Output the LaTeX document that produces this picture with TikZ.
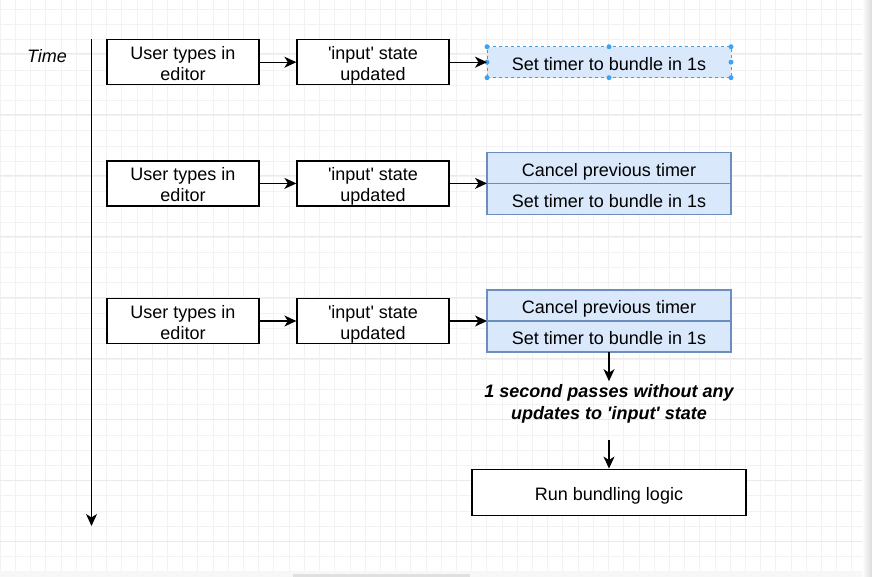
\documentclass[tikz,border=0pt]{standalone}
\usepackage{fontspec}
\setmainfont{Liberation Sans}
\usetikzlibrary{arrows.meta,positioning}

\definecolor{gridminor}{HTML}{F2F2F2}
\definecolor{gridmajor}{HTML}{EAEAEA}
\definecolor{bluefill}{HTML}{DAE8FC}
\definecolor{blueline}{HTML}{6C8EBF}
\definecolor{selblue}{HTML}{3FA2F0}

\newcommand{\inputword}{\textquotesingle input\textquotesingle}

\begin{document}
\begin{tikzpicture}[x=1pt,y=-1pt,
		every node/.style={font=\fontsize{18}{21}\selectfont},
		whitebox/.style={draw=black,line width=1.3pt,fill=white,minimum width=152pt,minimum height=45pt,align=center,inner sep=0pt,text height=36.6pt,text depth=0pt},
		runbox/.style={whitebox,minimum width=274pt,minimum height=46pt,text height=20.5pt,text depth=3.5pt},
		bluebox/.style={draw=blueline,line width=1.2pt,fill=bluefill,minimum width=244pt,minimum height=31pt,inner sep=0pt,outer sep=0pt,text height=20.3pt,text depth=3.5pt},
		selbox/.style={bluebox,draw=selblue!80!gray,dashed,line width=0.8pt},
		handle/.style={circle,fill=selblue,inner sep=0pt,minimum size=5pt},
		conn/.style={line width=1.3pt,-{Stealth[length=12pt,width=11pt,inset=3.5pt]}},
		note/.style={font=\fontsize{18}{21.5}\selectfont\bfseries\itshape,align=center,inner sep=3.5pt}]
		
		% Background
		\useasboundingbox (0,0) rectangle (872,577);
		\fill[white] (0,0) rectangle (872,577);
		\begin{scope}[yshift=-9pt]
		\draw[gridminor,line width=0.6pt,step=15.21pt] (0,-9) grid (872,577);
		\end{scope}
		\foreach \y in {53.7,114.7,175.7,236.7,297.7,358.7,419.7,480.7,541.7}
		\draw[gridmajor,line width=0.7pt] (0,\y) -- (872,\y);
		\fill[black!3] (0,571) rectangle (872,577);
		\fill[black!12] (293,573.5) rectangle (470,577);
		\shade[left color=white,right color=black!14] (862,0) rectangle (872,577);
		
		% Time axis
		\node[font=\fontsize{18}{21}\selectfont\itshape] (time) at (47,56) {Time};
		\coordinate (tstart) at (91.5,39.5);
		\coordinate (tend) at (91.5,526);
		\draw[conn] (tstart) -- (tend);
		
		
		% First keystroke
		\node[whitebox] (type1) at (183,62.2) {User types in\\editor};
		\node[whitebox] (state1) at (373,62.2) {\inputword{} state\\updated};
		\node[selbox] (set1) at (609,62.2) {Set timer to bundle in 1s};
		
		% Draw selection handles
		\foreach \a in {north west,north,north east,west,east,south west,south,south east}
		\node[handle] at (set1.\a) {};
		
		\draw[conn] (type1) -- (state1);
		\draw[conn] (state1) -- (set1);
		
		
		% Second keystroke
		\node[whitebox] (type2) at (183,183.4) {User types in\\editor};
		\node[whitebox] (state2) at (373,183.4) {\inputword{} state\\updated};
		\node[bluebox,anchor=south] (cancel2) at (609,183.4) {Cancel previous timer};
		\node[bluebox,below=0pt of cancel2] (set2) {Set timer to bundle in 1s};
		
		\draw[conn] (type2) -- (state2);
		\draw[conn] (state2.east) -- (cancel2.south west);
		
		
		% Third keystroke
		\node[whitebox] (type3) at (183,321) {User types in\\editor};
		\node[whitebox] (state3) at (373,321) {\inputword{} state\\updated};
		\node[bluebox,anchor=south] (cancel3) at (609,321) {Cancel previous timer};
		\node[bluebox,below=0pt of cancel3] (set3) {Set timer to bundle in 1s};
		
		\draw[conn] (type3) -- (state3);
		\draw[conn] (state3.east) -- (cancel3.south west);
		
		
		% Debounce result
		\node[note] (pass) at (609,404) {1 second passes without any\\updates to \inputword{} state};
		\coordinate[below=13pt of pass] (passend);
		\node[runbox] (run) at (609,492.2) {Run bundling logic};
		
		\draw[conn] (set3) -- (pass);
		\draw[conn] (passend) -- (run);
		
\end{tikzpicture}
\end{document}
